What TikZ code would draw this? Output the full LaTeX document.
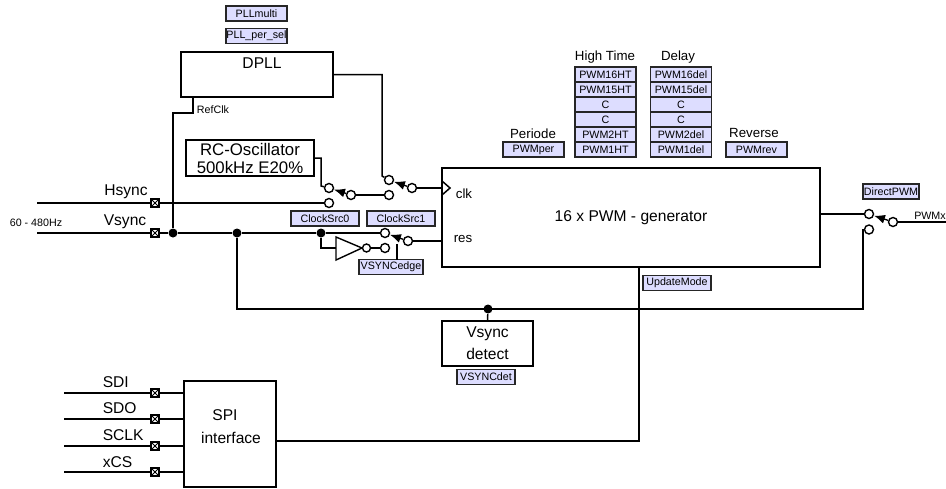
\documentclass[tikz,border=0pt]{standalone}
\usepackage{fontspec}
\setmainfont{Liberation Sans}
\usepackage{xcolor}
\usetikzlibrary{arrows.meta,positioning}
\definecolor{regfill}{HTML}{DDDDFF}
\newcommand{\sizeS}{\fontsize{10.7}{12}\selectfont}
\newcommand{\sizeM}{\fontsize{13.3}{15}\selectfont}
\newcommand{\sizeL}{\fontsize{15.6}{18}\selectfont}

\begin{document}
\begin{tikzpicture}[x=1pt,y=-1pt,line width=1.5pt,
    block/.style={draw,inner sep=0pt,outer sep=0pt,line width=1.5pt},
    reg/.style={draw=black!85,fill=regfill,inner sep=0pt,outer sep=0pt,line width=1.6pt,
        minimum width=#1,minimum height=15pt,font=\sizeS},
    reg/.default=61pt,
    contact/.style={circle,draw,fill=white,inner sep=0pt,minimum size=9pt,line width=1.4pt},
    junction/.style={circle,fill=black,inner sep=0pt,minimum size=9pt},
    pad/.style={draw,fill=white,inner sep=0pt,minimum size=8pt,line width=1.5pt,
        path picture={\draw[line width=0.8pt]
            (path picture bounding box.north west) -- (path picture bounding box.south east)
            (path picture bounding box.south west) -- (path picture bounding box.north east);}},
    lever/.style={line width=1.4pt,-{Latex[length=11pt,width=9pt]}},
    lab/.style={inner sep=0pt,font=\sizeL},
    head/.style={inner sep=0pt,font=\sizeM},
    small/.style={inner sep=0pt,font=\sizeS}]
\useasboundingbox (0,0) rectangle (946,488);

% Blocks
\node[block,minimum width=152pt,minimum height=45pt] (dpll) at (257,74.5) {};
\node[lab] (dplltext) at (262,63.5) {DPLL};
\node[block,minimum width=128pt,minimum height=36pt,align=center,font=\fontsize{16.8}{18}\selectfont] (rcosc) at (250,158) {RC-Oscillator\\500kHz E20\%};
\node[block,minimum width=378pt,minimum height=99pt] (gen) at (631,217.5) {};
\node[lab] (gentext) at (631,218) {16 x PWM - generator};
\node[head] (clktext) at (464,194) {clk};
\node[head] (restext) at (463,239) {res};
\node[block,minimum width=91pt,minimum height=45pt,align=center,font=\sizeL] (vdet) at (487.5,343.5) {Vsync\\[4pt]detect};
\node[block,minimum width=92pt,minimum height=106pt] (spi) at (230,434) {};
\node[lab] (spitext) at (225,415) {SPI};
\node[lab] (spiiface) at (231,438) {interface};

% Registers
\node[reg] (pllmulti) at (256.5,13.5) {PLLmulti};
\node[reg] (pllper) at (256.5,36) {PLL\_per\_sel};
\node[reg=68pt] (clksrc0) at (325,218.5) {ClockSrc0};
\node[reg=68pt] (clksrc1) at (401,218.5) {ClockSrc1};
\node[reg=64pt] (vsyncedge) at (391,267) {VSYNCedge};
\node[reg=58pt] (vsyncdet) at (486,377) {VSYNCdet};
\node[reg=68pt] (updatemode) at (677,283) {UpdateMode};
\node[reg=56pt] (directpwm) at (891,191.5) {DirectPWM};
\node[reg] (pwmper) at (533.5,149.5) {PWMper};
\node[reg] (pwmrev) at (756.5,149.5) {PWMrev};

% High time column
\node[reg] (ht16) at (605.5,74.5) {PWM16HT};
\node[reg] (ht15) at (605.5,89.5) {PWM15HT};
\node[reg] (htc1) at (605.5,104.5) {C};
\node[reg] (htc2) at (605.5,119.5) {C};
\node[reg] (ht2) at (605.5,134.5) {PWM2HT};
\node[reg] (ht1) at (605.5,149.5) {PWM1HT};

% Delay column
\node[reg] (del16) at (681,74.5) {PWM16del};
\node[reg] (del15) at (681,89.5) {PWM15del};
\node[reg] (delc1) at (681,104.5) {C};
\node[reg] (delc2) at (681,119.5) {C};
\node[reg] (del2) at (681,134.5) {PWM2del};
\node[reg] (del1) at (681,149.5) {PWM1del};

% Column titles
\node[head] (hightime) at (605,57) {High Time};
\node[head] (delay) at (678,57) {Delay};
\node[head] (periode) at (533,134) {Periode};
\node[head] (reverse) at (754,133) {Reverse};

% Switch contacts
\node[contact] (swAin) at (329,188) {};
\node[contact] (swAlow) at (329,203) {};
\node[contact] (swAout) at (351,195) {};
\node[contact] (swBin) at (389,180) {};
\node[contact] (swBlow) at (389,195) {};
\node[contact] (swBout) at (412,188) {};
\node[contact] (swCin) at (385,233) {};
\node[contact] (swClow) at (385,248) {};
\node[contact] (swCout) at (408,241) {};
\node[contact] (swDin) at (869,214) {};
\node[contact] (swDlow) at (869,229.5) {};
\node[contact] (swDout) at (893,222) {};

% Inverter
\coordinate (invtop) at (336,237);
\coordinate (invbot) at (336,260);
\coordinate (invin) at (336,248);
\coordinate (invtip) at (362,248);
\draw[line width=1.4pt] (invtop) -- (invtip) -- (invbot) -- cycle;
\node[contact,minimum size=8pt] (invout) at (366.5,248) {};

% Pads and junctions
\node[pad] (padH) at (155,203) {};
\node[pad] (padV) at (155,233) {};
\node[pad] (padSDI) at (155,393) {};
\node[pad] (padSDO) at (155,419) {};
\node[pad] (padSCLK) at (155,446) {};
\node[pad] (padCS) at (155,472) {};
\node[junction] (jref) at (173,233) {};
\node[junction] (jdet) at (237,233) {};
\node[junction] (jinv) at (321,233) {};
\node[junction] (jbus) at (488,309) {};

% Free ends and bends
\coordinate (hin) at (37,203);
\coordinate (vin) at (37,233);
\coordinate (sdiin) at (64,393);
\coordinate (sdoin) at (64,419);
\coordinate (sclkin) at (64,446);
\coordinate (csin) at (64,472);
\coordinate (pwmxout) at (946,222);
\coordinate (refdrop) at (193,113);
\coordinate (refleft) at (173,113);
\coordinate (dplldown) at (382,176);
\coordinate (rcdown) at (321,186);
\coordinate (busturn) at (863,309);
\coordinate (dlowturn) at (863,229.5);
\coordinate (spiright) at (639,441);
\coordinate (ctrl) at (397,244);
\coordinate (clkup) at (442,181);
\coordinate (clkdn) at (442,195);
\coordinate (clktip) at (450,188);

% Hsync, Vsync
\draw (hin) -- (padH) -- (swAlow);
\draw (vin) -- (padV) -- (jref) -- (jdet) -- (jinv) -- (swCin);
\draw (jinv) |- (invin);
\draw (invout) -- (swClow);

% DPLL and clock path
\draw (dpll.south -| refdrop) -- (refdrop) -- (refleft) -- (jref);
\draw (dpll.east) -| (dplldown) -- (swBin);
\draw (rcosc.east) -| (rcdown) -- (swAin);
\draw (swAout) -- (swBlow);
\draw (swBout) -- (swBout -| gen.west);
\draw (clkup) -- (clktip) -- (clkdn);
\draw (swCout) -- (swCout -| gen.west);
\draw[line width=1.2pt] (ctrl) -- (ctrl |- vsyncedge.north);

% Output
\draw (gen.east |- swDin) -- (swDin);
\draw (swDout) -- (pwmxout);
\draw (jdet) |- (busturn) -- (dlowturn) -- (swDlow);
\draw (jbus) -- (vdet.north);

% SPI
\draw (sdiin) -- (padSDI) -- (padSDI -| spi.west);
\draw (sdoin) -- (padSDO) -- (padSDO -| spi.west);
\draw (sclkin) -- (padSCLK) -- (padSCLK -| spi.west);
\draw (csin) -- (padCS) -- (padCS -| spi.west);
\draw (spi.east |- spiright) -- (spiright) -- (spiright |- gen.south);

% Switch levers
\draw[lever] (swAout) -- (swAin);
\draw[lever] (swBout) -- (swBin);
\draw[lever] (swCout) -- (swCin);
\draw[lever] (swDout) -- (swDin);

% Signal labels
\node[lab] (hsynctext) at (126,192) {Hsync};
\node[lab] (vsynctext) at (125,222) {Vsync};
\node[small] (freqtext) at (36,223) {60 - 480Hz};
\node[small] (refclk) at (213,110) {RefClk};
\node[small] (pwmx) at (930,216) {PWMx};
\node[lab,anchor=west] (sditext) at (102,382) {SDI};
\node[lab,anchor=west] (sdotext) at (102,408) {SDO};
\node[lab,anchor=west] (sclktext) at (102,435) {SCLK};
\node[lab,anchor=west] (cstext) at (102,462) {xCS};
\end{tikzpicture}
\end{document}
